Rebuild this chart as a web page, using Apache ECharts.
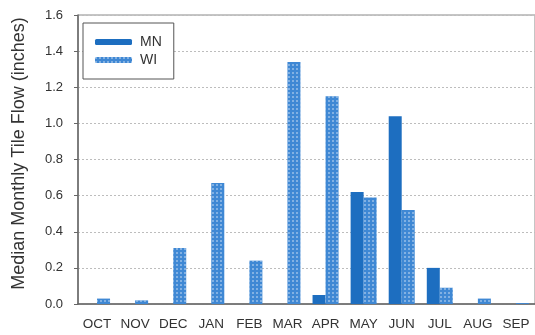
<!DOCTYPE html>
<html>
<head>
<meta charset="utf-8">
<script src="https://cdn.jsdelivr.net/npm/echarts@6/dist/echarts.min.js"></script>
<style>
  html, body { margin: 0; padding: 0; background: #fff; }
  #chart { width: 535px; height: 335px; }
</style>
</head>
<body>
<div id="chart"></div>
<script>
// Median monthly tile flow by water-year month (inches)
const months = ['OCT', 'NOV', 'DEC', 'JAN', 'FEB', 'MAR', 'APR', 'MAY', 'JUN', 'JUL', 'AUG', 'SEP'];
const mnFlow = [0, 0, 0, 0, 0, 0, 0.05, 0.62, 1.04, 0.20, 0, 0];
const wiFlow = [0.03, 0.02, 0.31, 0.67, 0.24, 1.34, 1.15, 0.59, 0.52, 0.09, 0.03, 0.005];
const yTicks = { min: 0, max: 1.6, step: 0.2 };

const chart = echarts.init(document.getElementById('chart'), null, { renderer: 'canvas' });

const font = 'Liberation Sans, Arial, sans-serif';

chart.setOption({
  animation: false,
  textStyle: { fontFamily: font },
  grid: {
    left: 78, top: 15, width: 457, height: 289,
    show: true, borderColor: '#8a8a8a', borderWidth: 1, backgroundColor: '#fff'
  },
  legend: {
    orient: 'vertical',
    left: 83, top: 23,
    itemWidth: 37, itemHeight: 6, itemGap: 4,
    padding: [12, 12, 12, 12],
    borderColor: '#555', borderWidth: 1,
    backgroundColor: '#fff',
    textStyle: { fontFamily: font, fontSize: 14, color: '#333', padding: [0, 0, 0, 3] },
    data: ['MN', 'WI']
  },
  xAxis: {
    type: 'category',
    data: months,
    axisLine: { lineStyle: { color: '#666', width: 1.5 } },
    axisTick: { alignWithLabel: true, length: 4, lineStyle: { color: '#666' } },
    axisLabel: { color: '#333', fontSize: 13.5, margin: 13, interval: 0 }
  },
  yAxis: {
    type: 'value',
    min: yTicks.min, max: yTicks.max, interval: yTicks.step,
    name: 'Median Monthly Tile Flow (inches)',
    nameLocation: 'middle', nameGap: 50,
    nameTextStyle: { fontSize: 18, color: '#333', padding: [0, 0, 0, 12] },
    axisLine: { show: true, lineStyle: { color: '#666', width: 1.5 } },
    axisTick: { show: true, length: 4, lineStyle: { color: '#666' } },
    axisLabel: {
      color: '#333', fontSize: 13, margin: 15,
      formatter: v => v.toFixed(1)
    },
    splitLine: { lineStyle: { color: '#bdbdbd', type: [2, 2], width: 1 } }
  },
  series: [
    {
      name: 'MN', type: 'bar', data: mnFlow,
      barWidth: 13, barGap: '0%',
      itemStyle: { color: '#1d6ec0' }
    },
    {
      name: 'WI', type: 'bar', data: wiFlow,
      barWidth: 13, barGap: '0%',
      itemStyle: {
        color: '#3f88d4',
        decal: {
          symbol: 'rect', symbolSize: 1,
          color: 'rgba(255,255,255,0.35)',
          dashArrayX: [2, 2], dashArrayY: [2, 2], rotation: 0
        }
      }
    }
  ]
});
</script>
</body>
</html>
